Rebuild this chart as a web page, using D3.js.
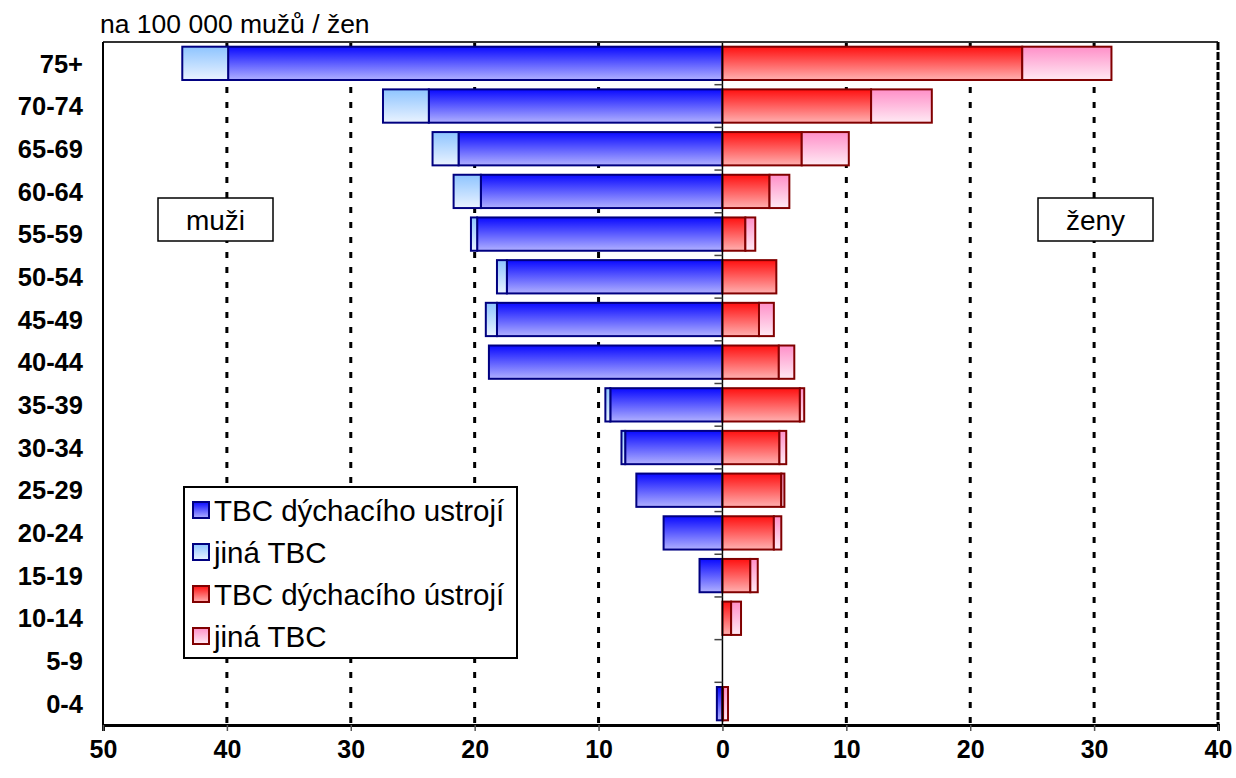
<!DOCTYPE html>
<html><head><meta charset="utf-8">
<script src="https://cdn.jsdelivr.net/npm/d3@7"></script>
<style>body{margin:0;background:#fff;} svg{display:block;font-family:"Liberation Sans",Arial,sans-serif;}</style>
</head><body><svg id="c" width="1236" height="778"></svg>
<script>
const categories = ["75+","70-74","65-69","60-64","55-59","50-54","45-49","40-44","35-39","30-34","25-29","20-24","15-19","10-14","5-9","0-4"];
const menResp  = [39.9,23.7,21.3,19.5,19.8,17.4,18.2,18.85,9.05,7.85,6.95,4.75,1.85,0,0,0.45];
const menOther = [3.7,3.7,2.1,2.2,0.5,0.8,0.9,0,0.4,0.3,0,0,0,0,0,0];
const womenResp  = [24.2,12.0,6.4,3.8,1.85,4.35,2.95,4.55,6.25,4.6,4.75,4.15,2.25,0.7,0,0.05];
const womenOther = [7.2,4.9,3.8,1.6,0.8,0,1.2,1.25,0.35,0.55,0.25,0.6,0.6,0.8,0,0.4];
const xTicks = [-50,-40,-30,-20,-10,0,10,20,30,40];
const legendLabels = ["TBC dýchacího ustrojí","jiná TBC","TBC dýchacího ústrojí","jiná TBC"];

const svg = d3.select("#c");
const L=103,R=1218,T=42,B=725;
const x = d3.scaleLinear().domain([-50,40]).range([L,R]);
const y = d3.scaleBand().domain(categories).range([T,B]).paddingInner(0.22).paddingOuter(0.11);

const defs = svg.append("defs");
function grad(id,c1,c2){
  const g=defs.append("linearGradient").attr("id",id).attr("x1",0).attr("y1",0).attr("x2",0).attr("y2",1);
  g.append("stop").attr("offset","0%").attr("stop-color",c1);
  g.append("stop").attr("offset","100%").attr("stop-color",c2);
}
grad("gBlue","#0a0aff","#b0b0ff");
grad("gLBlue","#8ec4ff","#eaf3ff");
grad("gRed","#ff1010","#ffb0b0");
grad("gPink","#ff8fc8","#ffeaf4");
const series = [
  {fill:"url(#gBlue)",stroke:"#000080"},
  {fill:"url(#gLBlue)",stroke:"#000080"},
  {fill:"url(#gRed)",stroke:"#800000"},
  {fill:"url(#gPink)",stroke:"#800000"}
];

// title
svg.append("text").attr("x",100).attr("y",33).attr("font-size",26.5).attr("fill","#000").text("na 100 000 mužů / žen");

// grid
const gridVals = xTicks.filter(v=>v!==0 && v>-50 && v<40);
svg.append("g").selectAll("line").data(gridVals).join("line")
  .attr("x1",d=>x(d)).attr("x2",d=>x(d)).attr("y1",T).attr("y2",B)
  .attr("stroke","#000").attr("stroke-width",3).attr("stroke-dasharray","6,9");

// bars
const rows = categories.map((c,i)=>({c,mr:menResp[i],mo:menOther[i],wr:womenResp[i],wo:womenOther[i]}));
const bh = y.bandwidth();
const gb = svg.append("g");
function bar(x0,x1,yy,s){
  if (Math.abs(x1-x0)<0.01) return;
  gb.append("rect").attr("x",Math.min(x(x0),x(x1))).attr("width",Math.abs(x(x1)-x(x0)))
    .attr("y",yy).attr("height",bh).attr("fill",s.fill).attr("stroke",s.stroke).attr("stroke-width",2);
}
rows.forEach(r=>{
  const yy=y(r.c);
  bar(0,-r.mr,yy,series[0]);
  bar(-r.mr,-(r.mr+r.mo),yy,series[1]);
  bar(0,r.wr,yy,series[2]);
  bar(r.wr,r.wr+r.wo,yy,series[3]);
});

// zero line and category ticks
svg.append("line").attr("x1",x(0)).attr("x2",x(0)).attr("y1",T).attr("y2",B).attr("stroke","#000").attr("stroke-width",1.5);
const bounds = categories.slice(1).map(c=>y(c)-y.step()*y.paddingInner()/2);
svg.append("g").selectAll("line").data(bounds).join("line")
  .attr("x1",x(0)-8).attr("x2",x(0)).attr("y1",d=>d).attr("y2",d=>d)
  .attr("stroke","#444").attr("stroke-width",1.5);

// frame
svg.append("line").attr("x1",L).attr("x2",R).attr("y1",T).attr("y2",T).attr("stroke","#333").attr("stroke-width",2);
svg.append("line").attr("x1",L).attr("x2",L).attr("y1",T).attr("y2",B).attr("stroke","#000").attr("stroke-width",2);
svg.append("line").attr("x1",R).attr("x2",R).attr("y1",T).attr("y2",B).attr("stroke","#000").attr("stroke-width",3).attr("stroke-dasharray","8,2");

// x axis
const xAxis = d3.axisBottom(x).tickValues(xTicks).tickFormat(d=>Math.abs(d)).tickSize(6).tickPadding(9);
const ga = svg.append("g").attr("transform",`translate(0,${B})`).call(xAxis);
ga.select(".domain").attr("stroke","#000").attr("stroke-width",3);
ga.selectAll(".tick line").attr("stroke","#555").attr("stroke-width",1.5);
ga.selectAll(".tick text").attr("font-size",25).attr("font-weight","bold").attr("font-family","'Liberation Sans',Arial,sans-serif").attr("fill","#000");

// y labels
svg.append("g").selectAll("text").data(categories).join("text")
  .attr("x",83).attr("y",d=>y(d)+bh/2).attr("dy","0.36em").attr("text-anchor","end")
  .attr("font-size",25.5).attr("font-weight","bold").text(d=>d);

// muži / ženy boxes
function labelBox(x0,txt){
  svg.append("rect").attr("x",x0).attr("y",198).attr("width",115).attr("height",43).attr("fill","#fff").attr("stroke","#000").attr("stroke-width",1.5);
  svg.append("text").attr("x",x0+57.5).attr("y",220).attr("dy","0.36em").attr("text-anchor","middle").attr("font-size",28).text(txt);
}
labelBox(158,"muži");
labelBox(1038,"ženy");

// legend
const lg = svg.append("g");
lg.append("rect").attr("x",184).attr("y",487).attr("width",333).attr("height",171).attr("fill","#fff").attr("stroke","#000").attr("stroke-width",2);
legendLabels.forEach((t,i)=>{
  const cy = 510 + i*42;
  lg.append("rect").attr("x",193).attr("y",cy-8).attr("width",16).attr("height",16).attr("fill",series[i].fill).attr("stroke",series[i].stroke).attr("stroke-width",2);
  lg.append("text").attr("x",214).attr("y",cy).attr("dy","0.36em").attr("font-size",29.5).text(t);
});
</script></body></html>
